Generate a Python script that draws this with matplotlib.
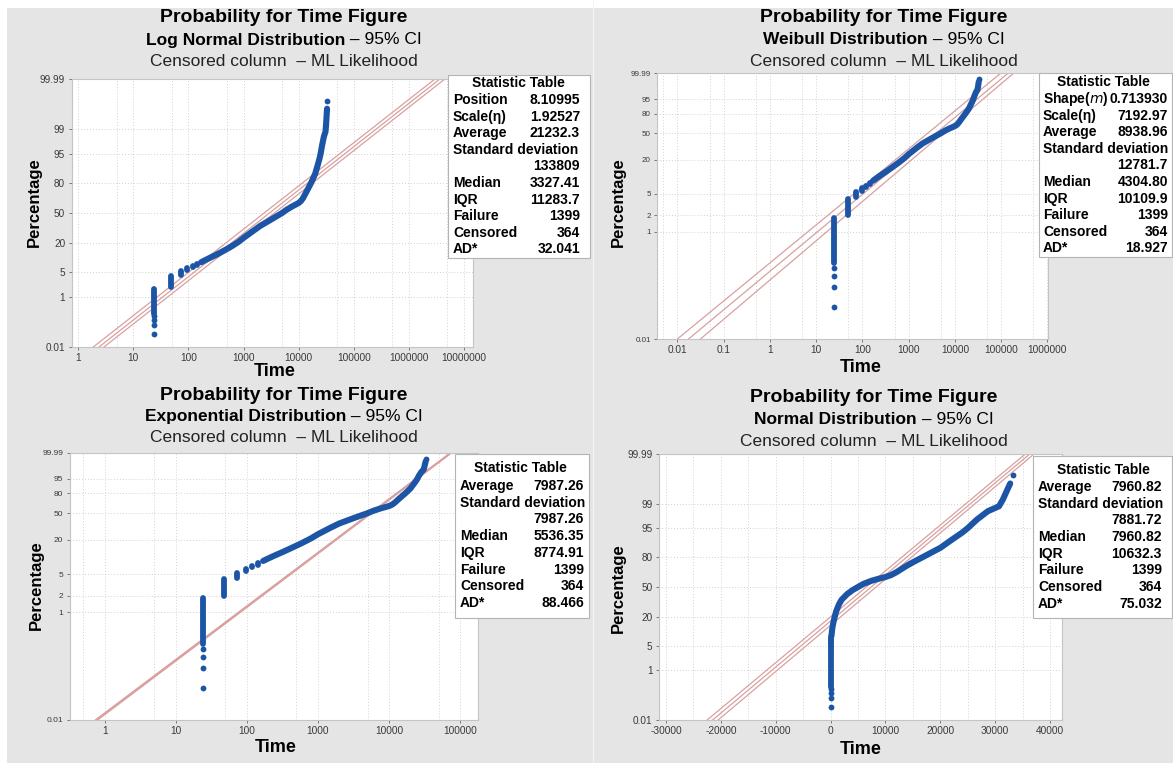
import numpy as np
import matplotlib
matplotlib.use("Agg")
import matplotlib.pyplot as plt
import matplotlib.ticker as mticker
from matplotlib.patches import Rectangle
from statistics import NormalDist

plt.rcParams['font.family'] = ['Liberation Sans', 'DejaVu Sans']

# data: the same failure times sit in every panel
tie_time = [24, 48, 72, 96, 120, 144]          # runs of equal times
tie_lo = [0.26, 2.0, 4.3, 5.6, 6.6, 7.4]
tie_hi = [1.8, 4.1, 5.3, 6.3, 7.0, 7.9]
loose_time = [24, 24, 24, 24, 33220]
loose_pct = [0.039, 0.092, 0.15, 0.21, 99.91]
curve_time = [170, 200, 250, 313, 400, 575, 800, 1000, 1500, 2000, 3000, 4000,
              5000, 6000, 7500, 9000, 10000, 11000, 12000, 13760, 15000, 17150,
              20000, 22000, 23930, 25000, 26640, 28680, 30700, 31400, 32070, 32750]
curve_pct = [8.6, 9.5, 10.8, 12.2, 14.0, 17.2, 21.0, 24.5, 31.0, 36.0, 42.0, 46.5,
             50.0, 53.5, 57.0, 59.5, 61.0, 63.0, 66.0, 72.0, 75.5, 80.6,
             86.3, 90.5, 93.5, 95.0, 97.0, 98.3, 98.8, 99.27, 99.62, 99.81]

# fit line and 95% CI: time where each line meets 0.01 % and 99.99 %
lognorm_lo = [1.87, 2.38, 2.93]
lognorm_hi = [2.98e6, 3.66e6, 4.5e6]
weib_lo = [0.010, 0.0174, 0.0315]
weib_hi = [9.9e4, 1.43e5, 1.88e5]
expo_lo = [0.74, 0.77, 0.80]
expo_hi = [7.3e4, 7.5e4, 7.7e4]
norm_lo = [-22500, -21500, -20500]
norm_hi = [35500, 36300, 37100]

prob_ticks = [0.01, 1, 5, 20, 50, 80, 95, 99, 99.99]
weib_ticks = [0.01, 1, 2, 5, 20, 50, 80, 95, 99.99]

tab1_labels = ["Position", "Scale(η)", "Average", "Standard deviation", "", "Median",
               "IQR", "Failure", "Censored", "AD*"]
tab1_values = ["8.10995", "1.92527", "21232.3", "", "133809", "3327.41", "11283.7",
               "1399", "364", "32.041"]
tab2_labels = [r"Shape($\mathit{m}$)", "Scale(η)", "Average", "Standard deviation", "",
               "Median", "IQR", "Failure", "Censored", "AD*"]
tab2_values = ["0.713930", "7192.97", "8938.96", "", "12781.7", "4304.80", "10109.9",
               "1399", "364", "18.927"]
tab3_labels = ["Average", "Standard deviation", "", "Median", "IQR", "Failure",
               "Censored", "AD*"]
tab3_values = ["7987.26", "", "7987.26", "5536.35", "8774.91", "1399", "364", "88.466"]
tab4_labels = ["Average", "Standard deviation", "", "Median", "IQR", "Failure",
               "Censored", "AD*"]
tab4_values = ["7960.82", "", "7881.72", "7960.82", "10632.3", "1399", "364", "75.032"]

W, H = 1173, 763
BLUE = '#1c55a6'
PINK = '#d9a0a0'
fig = plt.figure(figsize=(W / 100, H / 100), dpi=100, facecolor='white')

# probability paper scales
_nd = NormalDist()
_ppf = np.vectorize(_nd.inv_cdf, otypes=[float])
_cdf = np.vectorize(_nd.cdf, otypes=[float])


def probit_fwd(p):
    p = np.clip(np.asarray(p, float) / 100.0, 1e-12, 1 - 1e-12)
    return _ppf(p)


def probit_inv(z):
    return 100.0 * _cdf(np.asarray(z, float))


def weib_fwd(p):
    p = np.clip(np.asarray(p, float) / 100.0, 1e-12, 1 - 1e-12)
    return np.log(-np.log(1 - p))


def weib_inv(y):
    return 100.0 * (1 - np.exp(-np.exp(np.asarray(y, float))))


def box(l, t, r, b):
    return [l / W, 1 - b / H, (r - l) / W, (b - t) / H]


def ftext(x, y, s, **kw):
    return fig.text(x / W, 1 - y / H, s, **kw)


# grey screenshot background
fig.add_artist(Rectangle((7 / W, 0), 1 - 7 / W, 1 - 8 / H, transform=fig.transFigure,
                         facecolor='#e5e5e5', edgecolor='none', zorder=-5))
fig.add_artist(Rectangle((593 / W, 0), 1.2 / W, 1, transform=fig.transFigure,
                         facecolor='#f4f4f4', edgecolor='none', zorder=-4))


def panel(rect, logx, yscale, yticks, ysize, xticks, xlabels, xlim, lo, hi):
    ax = fig.add_axes(box(*rect))
    ax.set_facecolor('white')
    if logx:
        ax.set_xscale('log')
    ax.set_yscale('function', functions=yscale)
    ax.set_xlim(*xlim)
    ax.set_ylim(0.01, 99.99)
    ax.set_yticks(yticks)
    ax.set_yticklabels([f"{t:g}" for t in yticks], fontsize=ysize, color='#3a3a3a')
    ax.set_xticks(xticks)
    ax.set_xticklabels(xlabels, fontsize=7.3, color='#3a3a3a')
    if logx:
        ax.xaxis.set_minor_locator(mticker.LogLocator(base=10, subs=(5.0,), numticks=40))
    else:
        ax.xaxis.set_minor_locator(mticker.MultipleLocator(5000))
    ax.xaxis.set_minor_formatter(mticker.NullFormatter())
    ax.yaxis.set_minor_locator(mticker.NullLocator())
    ax.tick_params(which='major', length=2.5, width=0.6, color='#666666', pad=2)
    ax.tick_params(axis='x', which='major', pad=1.5)
    ax.tick_params(which='minor', length=0)
    ax.grid(True, which='both', axis='x', ls=(0, (1, 2)), color='#d2d2d2', lw=0.7)
    ax.grid(True, which='major', axis='y', ls=(0, (1, 2)), color='#d2d2d2', lw=0.7)
    for s in ax.spines.values():
        s.set_color('#c4c4c4')
        s.set_linewidth(0.8)
    for a, b in zip(lo, hi):
        ax.plot([a, b], [0.01, 99.99], color=PINK, lw=0.9, zorder=2)
    ax.plot(curve_time, curve_pct, color=BLUE, lw=4.4, solid_capstyle='round',
            solid_joinstyle='round', zorder=3)
    for t, a, b in zip(tie_time, tie_lo, tie_hi):
        ax.plot([t, t], [a, b], color=BLUE, lw=4.2, solid_capstyle='round', zorder=3)
    ax.plot(loose_time, loose_pct, 'o', color=BLUE, ms=4.2, mew=0, zorder=3)
    return ax


def titles(xc, ys, dist):
    ftext(xc, ys[0], "Probability for Time Figure", ha='center', va='center',
          fontsize=14, fontweight='bold')
    a = ftext(0, ys[1], dist, ha='left', va='center', fontsize=12.5, fontweight='bold')
    b = ftext(0, ys[1], " – 95% CI", ha='left', va='center', fontsize=12.5)
    r = fig.canvas.get_renderer()
    wa = a.get_window_extent(r).width
    wb = b.get_window_extent(r).width
    x0 = xc - (wa + wb) / 2
    a.set_x(x0 / W)
    b.set_x((x0 + wa) / W)
    ftext(xc, ys[2], "Censored column  – ML Likelihood", ha='center', va='center',
          fontsize=12.5, color='#222222')


def labels(px, py, tx, ty):
    ftext(px, py, "Percentage", rotation=90, ha='center', va='center',
          fontsize=12, fontweight='bold')
    ftext(tx, ty, "Time", ha='center', va='center', fontsize=13, fontweight='bold')


def stat_table(rect, head, y0, step, lx, vx, labs, vals):
    l, t, r, b = rect
    fig.add_artist(Rectangle((l / W, 1 - b / H), (r - l) / W, (b - t) / H,
                             transform=fig.transFigure, facecolor='white',
                             edgecolor='#b4b4b4', lw=0.8, zorder=5))
    ftext(head[0], head[1], "Statistic Table", ha='center', va='center',
          fontsize=10, fontweight='bold', zorder=6)
    for i, (lab, val) in enumerate(zip(labs, vals)):
        y = y0 + i * step
        if lab:
            ftext(lx, y, lab, ha='left', va='center', fontsize=10,
                  fontweight='bold', zorder=6)
        if val:
            ftext(vx, y, val, ha='right', va='center', fontsize=10,
                  fontweight='bold', zorder=6)


# top left: log normal
panel((71.5, 79, 473, 347), True, (probit_fwd, probit_inv), prob_ticks, 7.2,
      [1, 10, 100, 1e3, 1e4, 1e5, 1e6, 1e7],
      ["1", "10", "100", "1000", "10000", "100000", "1000000", "10000000"],
      (0.753, 1.46e7), lognorm_lo, lognorm_hi)
titles(284, (17, 40, 62), "Log Normal Distribution")
labels(34, 202, 275, 371)
stat_table((448, 75, 590, 258), (518, 83), 100, 16.6, 453, 580, tab1_labels, tab1_values)

# top right: weibull
panel((657, 73, 1048, 339), True, (weib_fwd, weib_inv), weib_ticks, 5.8,
      [0.01, 0.1, 1, 10, 100, 1e3, 1e4, 1e5, 1e6],
      ["0.01", "0.1", "1", "10", "100", "1000", "10000", "100000", "1000000"],
      (0.00362, 1.03e6), weib_lo, weib_hi)
titles(884, (17, 40, 62), "Weibull Distribution")
labels(618, 202, 861, 368)
stat_table((1039, 73, 1172, 257), (1103, 82), 99, 16.6, 1043, 1168, tab2_labels, tab2_values)

# bottom left: exponential
panel((69.6, 452.7, 478, 720), True, (weib_fwd, weib_inv), weib_ticks, 6.0,
      [1, 10, 100, 1e3, 1e4, 1e5],
      ["1", "10", "100", "1000", "10000", "100000"],
      (0.322, 1.79e5), expo_lo, expo_hi)
titles(284, (395, 417, 438), "Exponential Distribution")
labels(36, 585, 276, 748)
stat_table((454.5, 454, 589, 618), (520, 468), 486, 16.7, 460, 584, tab3_labels, tab3_values)

# bottom right: normal
panel((658.8, 454, 1062, 720), False, (probit_fwd, probit_inv), prob_ticks, 7.2,
      [-30000, -20000, -10000, 0, 10000, 20000, 30000, 40000],
      ["-30000", "-20000", "-10000", "0", "10000", "20000", "30000", "40000"],
      (-31314, 42190), norm_lo, norm_hi)
titles(874, (397, 419, 441), "Normal Distribution")
labels(618, 588, 861, 750)
stat_table((1033, 456, 1172, 618), (1103, 470), 487, 16.7, 1038, 1162, tab4_labels, tab4_values)

fig.savefig("out.png", dpi=100)
